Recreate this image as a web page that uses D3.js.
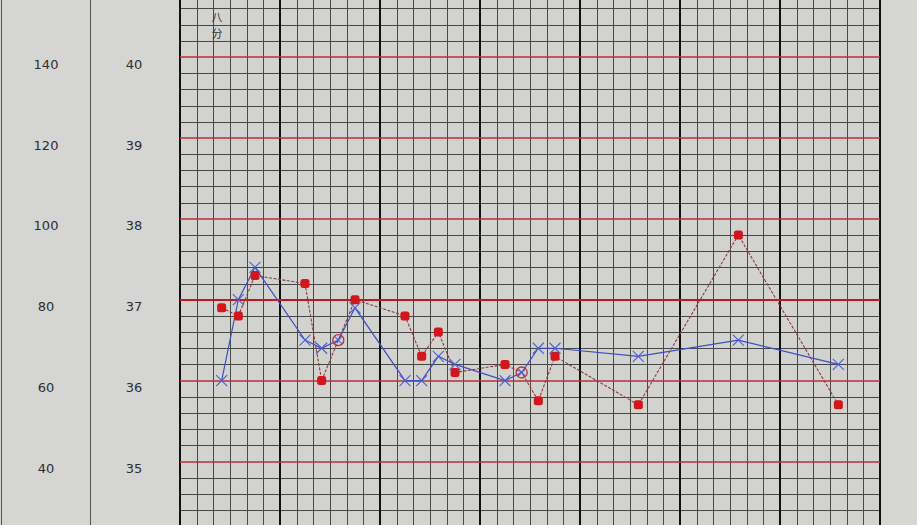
<!DOCTYPE html>
<html><head><meta charset="utf-8">
<script src="https://cdn.jsdelivr.net/npm/d3@7"></script>
<style>
html,body{margin:0;padding:0;background:#d1d1cf;}
svg{display:block;}
</style></head>
<body>
<script>
// ---- data ----
const slots  = [2, 3, 4, 7, 8, 9, 10, 13, 14, 15, 16, 19, 20, 21, 22, 27, 33, 39]; // 4-hour time slots (6 per day)
const temps  = [36.0, 37.0, 37.4, 36.5, 36.4, 36.5, 36.9, 36.0, 36.0, 36.3, 36.2, 36.0, 36.1, 36.4, 36.4, 36.3, 36.5, 36.2];
const pulses = [78, 76, 86, 84, 60, 70, 80, 76, 66, 72, 62, 64, 62, 55, 66, 54, 96, 54];
const tempTicks  = [35, 36, 37, 38, 39, 40];
const pulseTicks = [40, 60, 80, 100, 120, 140];
const noteChars  = ["八", "分"];
const nDays = 7, slotsPerDay = 6;

const W = 917, H = 525;
const svg = d3.select("body").append("svg").attr("width", W).attr("height", H);

const x = d3.scaleLinear().domain([0, nDays * slotsPerDay]).range([180, 880]);
const yT = d3.scaleLinear().domain([35, 40]).range([461.5, 57]);
const yP = d3.scaleLinear().domain([40, 140]).range([461.5, 57]);
const tTop = yT.invert(0), tBot = yT.invert(H);
const crisp = v => Math.round(v) + 0.5;

// backgrounds
svg.append("rect").attr("x", 0).attr("y", 0).attr("width", W).attr("height", H).attr("fill", "#d5d5d3");
svg.append("rect").attr("x", x(0)).attr("y", 0).attr("width", x(42) - x(0)).attr("height", H).attr("fill", "#d2d3ce");

// left panel lines
[1.5, 90.5].forEach(px => svg.append("line").attr("x1", px).attr("x2", px).attr("y1", 0).attr("y2", H)
  .attr("stroke", "#555").attr("stroke-width", 1));

// horizontal grid lines (every 0.2 degree)
const hVals = d3.range(Math.ceil(tBot * 5), Math.floor(tTop * 5) + 1).map(k => k / 5);
const isWhole = t => Math.abs(t - Math.round(t)) < 1e-6;
const grid = svg.append("g");
hVals.filter(t => !isWhole(t)).forEach(t => {
  grid.append("line").attr("x1", x(0)).attr("x2", x(42)).attr("y1", crisp(yT(t))).attr("y2", crisp(yT(t)))
    .attr("stroke", "#464646").attr("stroke-width", 1);
});
// vertical sub lines
d3.range(0, 43).forEach(s => {
  const day = s % slotsPerDay === 0;
  const px = day ? Math.round(x(s)) : crisp(x(s));
  grid.append("line").attr("x1", px).attr("x2", px).attr("y1", 0).attr("y2", H)
    .attr("stroke", day ? "#111" : "#4a4a4a").attr("stroke-width", day ? 2 : 1);
});
// red whole-degree lines
hVals.filter(isWhole).forEach(t => {
  const n = Math.round(t);
  const py = Math.round(yT(n));
  grid.append("line").attr("x1", x(0)).attr("x2", x(42)).attr("y1", py).attr("y2", py)
    .attr("stroke", n === 37 ? "#c01820" : "#b83038").attr("stroke-width", n === 37 ? 2.2 : 1.6);
});

// axes (labels)
const font = "'DejaVu Sans', sans-serif";
const pAxis = svg.append("g").attr("transform", "translate(46,7)")
  .call(d3.axisLeft(yP).tickValues(pulseTicks).tickFormat(d3.format("d")).tickSize(0).tickPadding(0));
const tAxis = svg.append("g").attr("transform", "translate(134,7)")
  .call(d3.axisLeft(yT).tickValues(tempTicks).tickFormat(d3.format("d")).tickSize(0).tickPadding(0));
[pAxis, tAxis].forEach(g => {
  g.select(".domain").remove();
  g.selectAll("text").attr("text-anchor", "middle").attr("fill", "#2e2e2e")
    .style("font-family", font).style("font-size", "13px");
});

// note text (vertical)
svg.append("g").selectAll("text").data(noteChars).join("text")
  .attr("x", 217).attr("y", (d, i) => 22 + i * 16)
  .attr("text-anchor", "middle").attr("fill", "#333")
  .style("font-family", "'Noto Sans CJK SC'").style("font-size", "11px")
  .text(d => d);

const pts = slots.map((s, i) => ({ x: x(s + 0.5), t: yT(temps[i]), p: yP(pulses[i]),
  same: Math.abs(yT(temps[i]) - yP(pulses[i])) < 0.5 }));

// pulse line
svg.append("path").datum(pts)
  .attr("d", d3.line().x(d => d.x).y(d => d.p))
  .attr("fill", "none").attr("stroke", "#8e3a3a").attr("stroke-width", 1.1)
  .attr("stroke-dasharray", "3,1.5");
// temperature line
svg.append("path").datum(pts)
  .attr("d", d3.line().x(d => d.x).y(d => d.t))
  .attr("fill", "none").attr("stroke", "#3b4fc4").attr("stroke-width", 1.2);

// pulse dots
svg.append("g").selectAll("rect").data(pts.filter(d => !d.same)).join("rect")
  .attr("x", d => d.x - 4.5).attr("y", d => d.p - 4.5).attr("width", 9).attr("height", 9)
  .attr("rx", 2.5).attr("fill", "#d2161c");

// temperature crosses
const cross = (g, d, r) => {
  g.append("line").attr("x1", d.x - r).attr("x2", d.x + r).attr("y1", d.t - r).attr("y2", d.t + r);
  g.append("line").attr("x1", d.x - r).attr("x2", d.x + r).attr("y1", d.t + r).attr("y2", d.t - r);
};
const cg = svg.append("g").attr("stroke", "#4a5fd6").attr("stroke-width", 1.1);
pts.forEach(d => cross(cg, d, d.same ? 3.5 : 5.5));

// coincident markers: red circle
svg.append("g").selectAll("circle").data(pts.filter(d => d.same)).join("circle")
  .attr("cx", d => d.x).attr("cy", d => d.t).attr("r", 5.5)
  .attr("fill", "none").attr("stroke", "#b83040").attr("stroke-width", 1.3);
</script>
</body></html>
